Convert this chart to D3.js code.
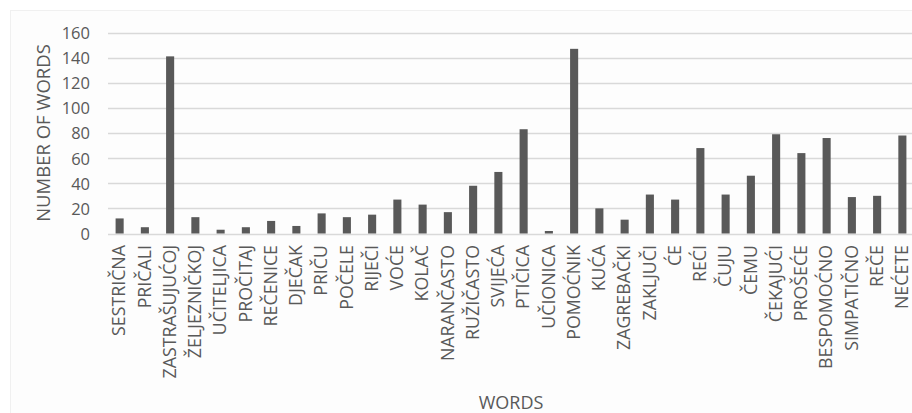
<!DOCTYPE html>
<html>
<head>
<meta charset="utf-8">
<script src="https://cdn.jsdelivr.net/npm/d3@7"></script>
<style>
  html, body { margin: 0; padding: 0; background: #ffffff; }
  svg { display: block; }
  text { font-family: "Open Sans", sans-serif; fill: #595959; }
</style>
</head>
<body>
<svg id="chart" width="912" height="413"></svg>
<script>
// Word frequency counts
const categories = [
  "SESTRIČNA", "PRIČALI", "ZASTRAŠUJUĆOJ", "ŽELJEZNIČKOJ", "UČITELJICA", "PROČITAJ",
  "REČENICE", "DJEČAK", "PRIČU", "POČELE", "RIJEČI", "VOĆE", "KOLAČ", "NARANČASTO",
  "RUŽIČASTO", "SVIJEĆA", "PTIČICA", "UČIONICA", "POMOĆNIK", "KUĆA", "ZAGREBAČKI",
  "ZAKLJUČI", "ĆE", "REĆI", "ČUJU", "ČEMU", "ČEKAJUĆI", "PROŠEĆE", "BESPOMOĆNO",
  "SIMPATIČNO", "REČE", "NEĆETE"
];
const counts = [
  12, 5, 141, 13, 3, 5,
  10, 6, 16, 13, 15, 27, 23, 17,
  38, 49, 83, 2, 147, 20, 11,
  31, 27, 68, 31, 46, 79, 64, 76,
  29, 30, 78
];
const yTicks = [0, 20, 40, 60, 80, 100, 120, 140, 160];
const yTitle = "NUMBER OF WORDS";
const xTitle = "WORDS";

const svg = d3.select("#chart");

// chart area frame
svg.append("rect")
  .attr("x", 10.5).attr("y", 10.5)
  .attr("width", 920).attr("height", 420)
  .attr("fill", "#fdfdfd")
  .attr("stroke", "#f0f0f0");

const plot = { left: 107, right: 915, top: 32.5, bottom: 233.5 };

const x = d3.scaleBand()
  .domain(categories)
  .range([plot.left, plot.right])
  .paddingInner(0.68)
  .paddingOuter(0.34);

const y = d3.scaleLinear()
  .domain([0, 160])
  .range([plot.bottom, plot.top]);

// horizontal gridlines
svg.append("g")
  .selectAll("line")
  .data(yTicks)
  .join("line")
  .attr("x1", plot.left + 1)
  .attr("x2", plot.right)
  .attr("y1", d => Math.round(y(d)) + 0.5)
  .attr("y2", d => Math.round(y(d)) + 0.5)
  .attr("stroke", "#d9d9d9")
  .attr("stroke-width", 1.5);

// y axis labels
const yAxis = d3.axisLeft(y).tickValues(yTicks).tickSize(0).tickPadding(0);
const gy = svg.append("g")
  .attr("transform", `translate(${plot.left - 17},0)`)
  .call(yAxis);
gy.select(".domain").remove();
gy.selectAll("text")
  .style("font-size", "16.5px")
  .attr("fill", "#595959")
  .attr("dy", "0.36em");

// bars
svg.append("g")
  .selectAll("rect")
  .data(categories.map((c, i) => ({ c, v: counts[i] })))
  .join("rect")
  .attr("x", d => x(d.c))
  .attr("width", x.bandwidth())
  .attr("y", d => y(d.v))
  .attr("height", d => y(0) - y(d.v))
  .attr("fill", "#595959");

// x axis with rotated category labels
const xAxis = d3.axisBottom(x).tickSize(0).tickPadding(0);
const gx = svg.append("g")
  .attr("transform", `translate(0,${plot.bottom})`)
  .call(xAxis);
gx.select(".domain").remove();
gx.selectAll("text")
  .style("font-size", "17.8px")
  .attr("fill", "#595959")
  .attr("text-anchor", "end")
  .attr("transform", "rotate(-90)")
  .attr("x", -11.5)
  .attr("y", 0)
  .attr("dy", "0.32em");

// axis titles
svg.append("text")
  .attr("transform", `translate(50,${(plot.top + plot.bottom) / 2}) rotate(-90)`)
  .attr("text-anchor", "middle")
  .style("font-size", "18.5px")
  .text(yTitle);

svg.append("text")
  .attr("x", 511)
  .attr("y", 409)
  .attr("text-anchor", "middle")
  .style("font-size", "18px")
  .text(xTitle);
</script>
</body>
</html>
